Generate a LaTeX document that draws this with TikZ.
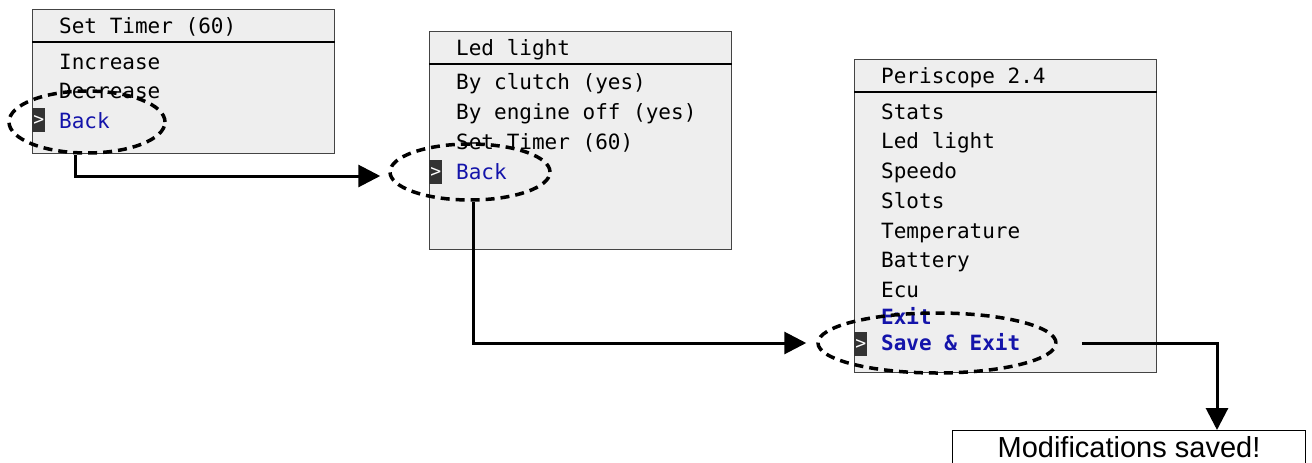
\documentclass[tikz,border=0pt]{standalone}
\usepackage{fontspec}
\setmainfont{Liberation Sans}
\setmonofont{DejaVu Sans Mono}
\newfontfamily\pixfont{DejaVu Sans Mono Bold}
\usetikzlibrary{arrows.meta,shapes.geometric,calc}
\definecolor{boxfill}{HTML}{EEEEEE}
\definecolor{boxline}{HTML}{444444}
\definecolor{selblue}{RGB}{20,20,170}
\definecolor{curs}{HTML}{333333}
\tikzset{
  menubox/.style={draw=boxline,line width=1pt,fill=boxfill,anchor=north west,minimum width=302pt,inner sep=0pt},
  item/.style={anchor=base west,inner sep=0pt,font=\ttfamily\fontsize{21}{25}\selectfont,text=black},
  selitem/.style={item,text=selblue},
  pixitem/.style={anchor=base west,inner sep=0pt,font=\pixfont\fontsize{21}{25}\selectfont,text=selblue},
  cursor/.style={anchor=north west,fill=curs,minimum width=13pt,minimum height=24pt,inner sep=0pt,text=white,font=\ttfamily\fontsize{18}{20}\selectfont},
  sep/.style={line width=2pt,black},
  ring/.style={draw,ellipse,line width=3.5pt,dash pattern=on 9pt off 6pt,inner sep=0pt},
  arr/.style={line width=3pt,-{Triangle[length=22pt,width=22pt]}},
}
\begin{document}
\begin{tikzpicture}[x=1pt,y=-1pt]
\useasboundingbox (0,0) rectangle (1312,463);
% box 1
\node[menubox,minimum height=144pt] (b1) at (32,9) {};
\draw[sep] (b1.west |- 0,42) -- (b1.east |- 0,42);
\node[item] (b1h) at (59,33) {Set Timer (60)};
\node[item] (b1i1) at (59,69) {Increase};
\node[item] (b1i2) at (59,98) {Decrease};
\node[cursor] (c1) at (32,108) {>};
\node[selitem] (b1i3) at (59,128) {Back};
% box 2
\node[menubox,minimum height=218pt] (b2) at (429,31) {};
\draw[sep] (b2.west |- 0,64) -- (b2.east |- 0,64);
\node[item] (b2h) at (456,55) {Led light};
\node[item] (b2i1) at (456,89) {By clutch (yes)};
\node[item] (b2i2) at (456,119) {By engine off (yes)};
\node[item] (b2i3) at (456,149) {Set Timer (60)};
\node[cursor] (c2) at (429,160) {>};
\node[selitem] (b2i4) at (456,179) {Back};
% box 3
\node[menubox,minimum height=313pt] (b3) at (854,59) {};
\draw[sep] (b3.west |- 0,92) -- (b3.east |- 0,92);
\node[item] (b3h) at (881,83) {Periscope 2.4};
\node[item] (s1) at (881,119) {Stats};
\node[item] (s2) at (881,148) {Led light};
\node[item] (s3) at (881,178) {Speedo};
\node[item] (s4) at (881,208) {Slots};
\node[item] (s5) at (881,238) {Temperature};
\node[item] (s6) at (881,267) {Battery};
\node[item] (s7) at (881,297) {Ecu};
\node[pixitem] (s8) at (881,324) {Exit};
\node[cursor] (c3) at (854,332) {>};
\node[pixitem] (s9) at (881,350) {Save \& Exit};
% box 4
\node[draw=black,line width=1pt,fill=white,anchor=north west,minimum width=353pt,minimum height=50pt,inner sep=0pt] (b4) at (952,430) {};
\node[anchor=base,inner sep=0pt,font=\fontsize{29}{33}\selectfont] (b4t) at (1129,457) {Modifications saved!};
% ellipses
\node[ring,minimum width=156pt,minimum height=62pt] (e1) at (87,122) {};
\node[ring,minimum width=160pt,minimum height=56pt] (e2) at (470,172) {};
\node[ring,minimum width=238pt,minimum height=60pt] (e3) at (937,343) {};
% connectors
\draw[arr] ([xshift=-12pt]e1.south) |- ([xshift=-8pt,yshift=-4pt]e2.west);
\draw[arr] ([xshift=3pt]e2.south) |- ([xshift=-10pt]e3.west);
\draw[arr] ([xshift=24pt]e3.east) -| ([xshift=88pt]b4.north);
\end{tikzpicture}
\end{document}
